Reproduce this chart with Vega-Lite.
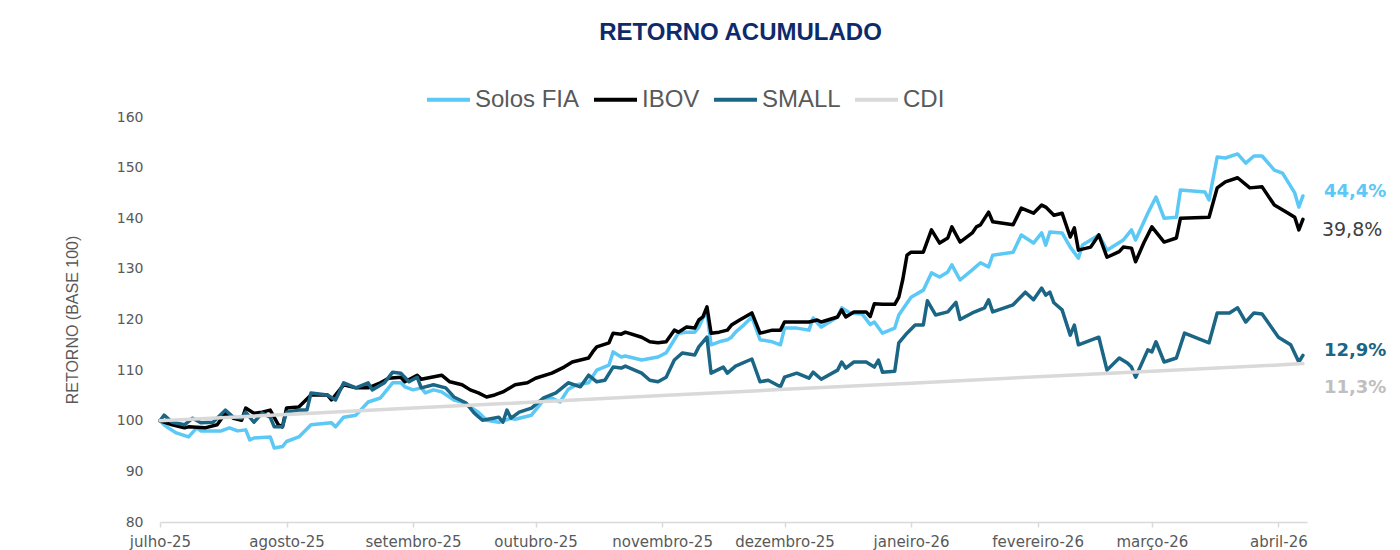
{
"$schema": "https://vega.github.io/schema/vega-lite/v6.json",
"width": 1147, "height": 405,
"autosize": {"type": "none"},
"padding": {"left": 160, "top": 117, "right": 93, "bottom": 28},
"background": "white",
"title": {"text": "RETORNO ACUMULADO", "anchor": "middle", "frame": "group", "font": "Liberation Sans", "fontSize": 24, "fontWeight": "bold", "color": "#0f2a6b", "offset": 31, "dx": 7},
"config": {"view": {"stroke": null}},
"datasets": {
"series": [
{"d":"2025-07-01","s":"Solos FIA","v":100},{"d":"2025-07-02","s":"Solos FIA","v":99.2},{"d":"2025-07-03","s":"Solos FIA","v":98.6},{"d":"2025-07-05","s":"Solos FIA","v":97.6},{"d":"2025-07-08","s":"Solos FIA","v":96.8},{"d":"2025-07-10","s":"Solos FIA","v":98.6},{"d":"2025-07-11","s":"Solos FIA","v":98.0},{"d":"2025-07-16","s":"Solos FIA","v":98.0},{"d":"2025-07-18","s":"Solos FIA","v":98.6},{"d":"2025-07-20","s":"Solos FIA","v":98.0},{"d":"2025-07-22","s":"Solos FIA","v":98.2},{"d":"2025-07-23","s":"Solos FIA","v":96.2},{"d":"2025-07-24","s":"Solos FIA","v":96.6},{"d":"2025-07-28","s":"Solos FIA","v":96.8},{"d":"2025-07-29","s":"Solos FIA","v":94.6},{"d":"2025-07-31","s":"Solos FIA","v":94.9},{"d":"2025-08-01","s":"Solos FIA","v":95.9},{"d":"2025-08-04","s":"Solos FIA","v":96.8},{"d":"2025-08-05","s":"Solos FIA","v":97.6},{"d":"2025-08-07","s":"Solos FIA","v":99.2},{"d":"2025-08-12","s":"Solos FIA","v":99.6},{"d":"2025-08-13","s":"Solos FIA","v":98.8},{"d":"2025-08-15","s":"Solos FIA","v":100.7},{"d":"2025-08-18","s":"Solos FIA","v":101.1},{"d":"2025-08-21","s":"Solos FIA","v":103.7},{"d":"2025-08-24","s":"Solos FIA","v":104.5},{"d":"2025-08-27","s":"Solos FIA","v":107.5},{"d":"2025-08-29","s":"Solos FIA","v":107.5},{"d":"2025-08-30","s":"Solos FIA","v":106.7},{"d":"2025-09-01","s":"Solos FIA","v":106.1},{"d":"2025-09-03","s":"Solos FIA","v":106.5},{"d":"2025-09-04","s":"Solos FIA","v":105.5},{"d":"2025-09-06","s":"Solos FIA","v":106.1},{"d":"2025-09-08","s":"Solos FIA","v":105.7},{"d":"2025-09-11","s":"Solos FIA","v":104.1},{"d":"2025-09-13","s":"Solos FIA","v":103.7},{"d":"2025-09-15","s":"Solos FIA","v":102.7},{"d":"2025-09-17","s":"Solos FIA","v":101.7},{"d":"2025-09-19","s":"Solos FIA","v":100.1},{"d":"2025-09-22","s":"Solos FIA","v":99.7},{"d":"2025-09-25","s":"Solos FIA","v":100.5},{"d":"2025-09-26","s":"Solos FIA","v":100.3},{"d":"2025-09-30","s":"Solos FIA","v":101.1},{"d":"2025-10-02","s":"Solos FIA","v":103.1},{"d":"2025-10-03","s":"Solos FIA","v":104.1},{"d":"2025-10-05","s":"Solos FIA","v":104.5},{"d":"2025-10-07","s":"Solos FIA","v":103.7},{"d":"2025-10-09","s":"Solos FIA","v":106.2},{"d":"2025-10-11","s":"Solos FIA","v":107.1},{"d":"2025-10-14","s":"Solos FIA","v":107.5},{"d":"2025-10-16","s":"Solos FIA","v":110.0},{"d":"2025-10-19","s":"Solos FIA","v":111.0},{"d":"2025-10-20","s":"Solos FIA","v":113.6},{"d":"2025-10-22","s":"Solos FIA","v":112.6},{"d":"2025-10-23","s":"Solos FIA","v":112.8},{"d":"2025-10-27","s":"Solos FIA","v":112.0},{"d":"2025-10-31","s":"Solos FIA","v":112.6},{"d":"2025-11-02","s":"Solos FIA","v":113.4},{"d":"2025-11-04","s":"Solos FIA","v":116.0},{"d":"2025-11-05","s":"Solos FIA","v":117.3},{"d":"2025-11-07","s":"Solos FIA","v":117.5},{"d":"2025-11-09","s":"Solos FIA","v":117.5},{"d":"2025-11-10","s":"Solos FIA","v":118.5},{"d":"2025-11-11","s":"Solos FIA","v":120.3},{"d":"2025-11-12","s":"Solos FIA","v":121.3},{"d":"2025-11-13","s":"Solos FIA","v":115.0},{"d":"2025-11-15","s":"Solos FIA","v":115.6},{"d":"2025-11-17","s":"Solos FIA","v":116.0},{"d":"2025-11-18","s":"Solos FIA","v":116.5},{"d":"2025-11-19","s":"Solos FIA","v":117.5},{"d":"2025-11-21","s":"Solos FIA","v":118.9},{"d":"2025-11-23","s":"Solos FIA","v":120.5},{"d":"2025-11-25","s":"Solos FIA","v":116.0},{"d":"2025-11-28","s":"Solos FIA","v":115.6},{"d":"2025-11-30","s":"Solos FIA","v":115.0},{"d":"2025-12-01","s":"Solos FIA","v":118.3},{"d":"2025-12-04","s":"Solos FIA","v":118.3},{"d":"2025-12-07","s":"Solos FIA","v":117.9},{"d":"2025-12-08","s":"Solos FIA","v":120.3},{"d":"2025-12-10","s":"Solos FIA","v":118.5},{"d":"2025-12-14","s":"Solos FIA","v":120.5},{"d":"2025-12-15","s":"Solos FIA","v":122.3},{"d":"2025-12-17","s":"Solos FIA","v":121.3},{"d":"2025-12-20","s":"Solos FIA","v":121.1},{"d":"2025-12-22","s":"Solos FIA","v":119.0},{"d":"2025-12-23","s":"Solos FIA","v":119.5},{"d":"2025-12-25","s":"Solos FIA","v":117.3},{"d":"2025-12-28","s":"Solos FIA","v":118.3},{"d":"2025-12-29","s":"Solos FIA","v":120.9},{"d":"2026-01-01","s":"Solos FIA","v":124.4},{"d":"2026-01-04","s":"Solos FIA","v":125.8},{"d":"2026-01-06","s":"Solos FIA","v":129.2},{"d":"2026-01-08","s":"Solos FIA","v":128.4},{"d":"2026-01-10","s":"Solos FIA","v":129.4},{"d":"2026-01-11","s":"Solos FIA","v":130.8},{"d":"2026-01-13","s":"Solos FIA","v":127.8},{"d":"2026-01-16","s":"Solos FIA","v":129.8},{"d":"2026-01-18","s":"Solos FIA","v":131.2},{"d":"2026-01-20","s":"Solos FIA","v":130.4},{"d":"2026-01-21","s":"Solos FIA","v":132.7},{"d":"2026-01-26","s":"Solos FIA","v":133.3},{"d":"2026-01-28","s":"Solos FIA","v":136.7},{"d":"2026-01-31","s":"Solos FIA","v":135.1},{"d":"2026-02-02","s":"Solos FIA","v":137.1},{"d":"2026-02-03","s":"Solos FIA","v":134.7},{"d":"2026-02-04","s":"Solos FIA","v":137.3},{"d":"2026-02-07","s":"Solos FIA","v":137.1},{"d":"2026-02-09","s":"Solos FIA","v":134.3},{"d":"2026-02-11","s":"Solos FIA","v":132.1},{"d":"2026-02-12","s":"Solos FIA","v":134.7},{"d":"2026-02-16","s":"Solos FIA","v":136.7},{"d":"2026-02-18","s":"Solos FIA","v":133.7},{"d":"2026-02-22","s":"Solos FIA","v":135.7},{"d":"2026-02-24","s":"Solos FIA","v":137.7},{"d":"2026-02-25","s":"Solos FIA","v":135.7},{"d":"2026-02-28","s":"Solos FIA","v":141.0},{"d":"2026-03-02","s":"Solos FIA","v":144.2},{"d":"2026-03-04","s":"Solos FIA","v":140.0},{"d":"2026-03-07","s":"Solos FIA","v":140.2},{"d":"2026-03-08","s":"Solos FIA","v":145.6},{"d":"2026-03-14","s":"Solos FIA","v":145.2},{"d":"2026-03-15","s":"Solos FIA","v":143.6},{"d":"2026-03-17","s":"Solos FIA","v":152.1},{"d":"2026-03-19","s":"Solos FIA","v":151.9},{"d":"2026-03-22","s":"Solos FIA","v":152.7},{"d":"2026-03-24","s":"Solos FIA","v":150.9},{"d":"2026-03-26","s":"Solos FIA","v":152.3},{"d":"2026-03-28","s":"Solos FIA","v":152.3},{"d":"2026-03-31","s":"Solos FIA","v":149.5},{"d":"2026-04-02","s":"Solos FIA","v":148.9},{"d":"2026-04-05","s":"Solos FIA","v":145.0},{"d":"2026-04-06","s":"Solos FIA","v":142.2},{"d":"2026-04-07","s":"Solos FIA","v":144.4},
{"d":"2025-07-01","s":"IBOV","v":100},{"d":"2025-07-04","s":"IBOV","v":99.2},{"d":"2025-07-07","s":"IBOV","v":98.6},{"d":"2025-07-08","s":"IBOV","v":98.8},{"d":"2025-07-12","s":"IBOV","v":98.6},{"d":"2025-07-15","s":"IBOV","v":99.2},{"d":"2025-07-17","s":"IBOV","v":101.5},{"d":"2025-07-19","s":"IBOV","v":100.5},{"d":"2025-07-21","s":"IBOV","v":100.1},{"d":"2025-07-22","s":"IBOV","v":102.5},{"d":"2025-07-24","s":"IBOV","v":101.5},{"d":"2025-07-26","s":"IBOV","v":101.7},{"d":"2025-07-28","s":"IBOV","v":102.1},{"d":"2025-07-30","s":"IBOV","v":99.2},{"d":"2025-07-31","s":"IBOV","v":98.8},{"d":"2025-08-01","s":"IBOV","v":102.5},{"d":"2025-08-04","s":"IBOV","v":102.7},{"d":"2025-08-07","s":"IBOV","v":105.1},{"d":"2025-08-11","s":"IBOV","v":105.1},{"d":"2025-08-12","s":"IBOV","v":104.1},{"d":"2025-08-15","s":"IBOV","v":107.1},{"d":"2025-08-18","s":"IBOV","v":106.5},{"d":"2025-08-21","s":"IBOV","v":106.5},{"d":"2025-08-24","s":"IBOV","v":107.5},{"d":"2025-08-26","s":"IBOV","v":108.4},{"d":"2025-08-29","s":"IBOV","v":108.6},{"d":"2025-08-30","s":"IBOV","v":107.7},{"d":"2025-09-02","s":"IBOV","v":109.0},{"d":"2025-09-03","s":"IBOV","v":108.2},{"d":"2025-09-08","s":"IBOV","v":109.0},{"d":"2025-09-10","s":"IBOV","v":107.7},{"d":"2025-09-13","s":"IBOV","v":107.1},{"d":"2025-09-15","s":"IBOV","v":106.1},{"d":"2025-09-17","s":"IBOV","v":105.5},{"d":"2025-09-19","s":"IBOV","v":104.7},{"d":"2025-09-21","s":"IBOV","v":105.1},{"d":"2025-09-23","s":"IBOV","v":105.7},{"d":"2025-09-26","s":"IBOV","v":107.1},{"d":"2025-09-29","s":"IBOV","v":107.5},{"d":"2025-10-01","s":"IBOV","v":108.4},{"d":"2025-10-05","s":"IBOV","v":109.4},{"d":"2025-10-08","s":"IBOV","v":110.6},{"d":"2025-10-10","s":"IBOV","v":111.6},{"d":"2025-10-14","s":"IBOV","v":112.4},{"d":"2025-10-15","s":"IBOV","v":113.6},{"d":"2025-10-16","s":"IBOV","v":114.6},{"d":"2025-10-19","s":"IBOV","v":115.4},{"d":"2025-10-20","s":"IBOV","v":117.3},{"d":"2025-10-22","s":"IBOV","v":117.1},{"d":"2025-10-23","s":"IBOV","v":117.5},{"d":"2025-10-27","s":"IBOV","v":116.5},{"d":"2025-10-29","s":"IBOV","v":115.6},{"d":"2025-10-31","s":"IBOV","v":115.4},{"d":"2025-11-02","s":"IBOV","v":115.6},{"d":"2025-11-04","s":"IBOV","v":117.9},{"d":"2025-11-05","s":"IBOV","v":117.5},{"d":"2025-11-07","s":"IBOV","v":118.5},{"d":"2025-11-09","s":"IBOV","v":118.3},{"d":"2025-11-10","s":"IBOV","v":119.9},{"d":"2025-11-11","s":"IBOV","v":120.5},{"d":"2025-11-12","s":"IBOV","v":122.5},{"d":"2025-11-13","s":"IBOV","v":117.3},{"d":"2025-11-15","s":"IBOV","v":117.5},{"d":"2025-11-17","s":"IBOV","v":117.9},{"d":"2025-11-18","s":"IBOV","v":118.9},{"d":"2025-11-20","s":"IBOV","v":119.9},{"d":"2025-11-23","s":"IBOV","v":121.3},{"d":"2025-11-25","s":"IBOV","v":117.3},{"d":"2025-11-28","s":"IBOV","v":117.9},{"d":"2025-11-30","s":"IBOV","v":117.9},{"d":"2025-12-01","s":"IBOV","v":119.5},{"d":"2025-12-04","s":"IBOV","v":119.5},{"d":"2025-12-07","s":"IBOV","v":119.5},{"d":"2025-12-09","s":"IBOV","v":119.9},{"d":"2025-12-10","s":"IBOV","v":119.5},{"d":"2025-12-14","s":"IBOV","v":120.5},{"d":"2025-12-15","s":"IBOV","v":121.9},{"d":"2025-12-16","s":"IBOV","v":120.5},{"d":"2025-12-18","s":"IBOV","v":121.5},{"d":"2025-12-21","s":"IBOV","v":121.5},{"d":"2025-12-22","s":"IBOV","v":120.6},{"d":"2025-12-23","s":"IBOV","v":123.1},{"d":"2025-12-25","s":"IBOV","v":123.0},{"d":"2025-12-28","s":"IBOV","v":123.0},{"d":"2025-12-29","s":"IBOV","v":124.4},{"d":"2025-12-30","s":"IBOV","v":128.0},{"d":"2025-12-31","s":"IBOV","v":132.7},{"d":"2026-01-01","s":"IBOV","v":133.3},{"d":"2026-01-04","s":"IBOV","v":133.3},{"d":"2026-01-06","s":"IBOV","v":137.7},{"d":"2026-01-08","s":"IBOV","v":135.1},{"d":"2026-01-10","s":"IBOV","v":136.1},{"d":"2026-01-11","s":"IBOV","v":138.3},{"d":"2026-01-13","s":"IBOV","v":135.3},{"d":"2026-01-16","s":"IBOV","v":137.1},{"d":"2026-01-17","s":"IBOV","v":138.3},{"d":"2026-01-18","s":"IBOV","v":138.7},{"d":"2026-01-20","s":"IBOV","v":141.2},{"d":"2026-01-21","s":"IBOV","v":139.3},{"d":"2026-01-26","s":"IBOV","v":138.7},{"d":"2026-01-28","s":"IBOV","v":142.0},{"d":"2026-01-31","s":"IBOV","v":141.0},{"d":"2026-02-02","s":"IBOV","v":142.6},{"d":"2026-02-03","s":"IBOV","v":142.2},{"d":"2026-02-05","s":"IBOV","v":140.6},{"d":"2026-02-07","s":"IBOV","v":141.0},{"d":"2026-02-09","s":"IBOV","v":136.3},{"d":"2026-02-10","s":"IBOV","v":138.1},{"d":"2026-02-11","s":"IBOV","v":133.7},{"d":"2026-02-14","s":"IBOV","v":134.3},{"d":"2026-02-16","s":"IBOV","v":136.7},{"d":"2026-02-18","s":"IBOV","v":132.3},{"d":"2026-02-21","s":"IBOV","v":133.4},{"d":"2026-02-22","s":"IBOV","v":134.3},{"d":"2026-02-24","s":"IBOV","v":134.1},{"d":"2026-02-25","s":"IBOV","v":131.4},{"d":"2026-02-27","s":"IBOV","v":135.1},{"d":"2026-03-01","s":"IBOV","v":138.3},{"d":"2026-03-04","s":"IBOV","v":135.3},{"d":"2026-03-07","s":"IBOV","v":136.1},{"d":"2026-03-08","s":"IBOV","v":140.0},{"d":"2026-03-15","s":"IBOV","v":140.2},{"d":"2026-03-17","s":"IBOV","v":146.0},{"d":"2026-03-19","s":"IBOV","v":147.2},{"d":"2026-03-22","s":"IBOV","v":148.0},{"d":"2026-03-25","s":"IBOV","v":146.0},{"d":"2026-03-28","s":"IBOV","v":146.2},{"d":"2026-03-31","s":"IBOV","v":142.6},{"d":"2026-04-03","s":"IBOV","v":141.2},{"d":"2026-04-05","s":"IBOV","v":140.2},{"d":"2026-04-06","s":"IBOV","v":137.7},{"d":"2026-04-07","s":"IBOV","v":139.8},
{"d":"2025-07-01","s":"SMALL","v":100},{"d":"2025-07-02","s":"SMALL","v":101.1},{"d":"2025-07-04","s":"SMALL","v":99.7},{"d":"2025-07-07","s":"SMALL","v":99.2},{"d":"2025-07-09","s":"SMALL","v":100.5},{"d":"2025-07-11","s":"SMALL","v":99.6},{"d":"2025-07-14","s":"SMALL","v":99.7},{"d":"2025-07-17","s":"SMALL","v":102.1},{"d":"2025-07-19","s":"SMALL","v":100.7},{"d":"2025-07-21","s":"SMALL","v":100.5},{"d":"2025-07-22","s":"SMALL","v":101.7},{"d":"2025-07-24","s":"SMALL","v":99.7},{"d":"2025-07-26","s":"SMALL","v":101.5},{"d":"2025-07-28","s":"SMALL","v":100.7},{"d":"2025-07-29","s":"SMALL","v":98.8},{"d":"2025-07-31","s":"SMALL","v":98.8},{"d":"2025-08-01","s":"SMALL","v":101.7},{"d":"2025-08-04","s":"SMALL","v":102.1},{"d":"2025-08-06","s":"SMALL","v":102.1},{"d":"2025-08-07","s":"SMALL","v":105.5},{"d":"2025-08-11","s":"SMALL","v":105.1},{"d":"2025-08-13","s":"SMALL","v":104.1},{"d":"2025-08-15","s":"SMALL","v":107.5},{"d":"2025-08-18","s":"SMALL","v":106.5},{"d":"2025-08-21","s":"SMALL","v":107.5},{"d":"2025-08-22","s":"SMALL","v":106.1},{"d":"2025-08-25","s":"SMALL","v":107.5},{"d":"2025-08-27","s":"SMALL","v":109.6},{"d":"2025-08-29","s":"SMALL","v":109.4},{"d":"2025-08-31","s":"SMALL","v":107.7},{"d":"2025-09-02","s":"SMALL","v":108.6},{"d":"2025-09-03","s":"SMALL","v":106.5},{"d":"2025-09-06","s":"SMALL","v":107.1},{"d":"2025-09-09","s":"SMALL","v":106.5},{"d":"2025-09-11","s":"SMALL","v":104.7},{"d":"2025-09-14","s":"SMALL","v":103.5},{"d":"2025-09-16","s":"SMALL","v":101.5},{"d":"2025-09-18","s":"SMALL","v":100.1},{"d":"2025-09-22","s":"SMALL","v":100.7},{"d":"2025-09-23","s":"SMALL","v":99.7},{"d":"2025-09-24","s":"SMALL","v":102.1},{"d":"2025-09-25","s":"SMALL","v":100.5},{"d":"2025-09-27","s":"SMALL","v":101.7},{"d":"2025-09-30","s":"SMALL","v":102.5},{"d":"2025-10-03","s":"SMALL","v":104.5},{"d":"2025-10-06","s":"SMALL","v":105.5},{"d":"2025-10-09","s":"SMALL","v":107.5},{"d":"2025-10-12","s":"SMALL","v":106.7},{"d":"2025-10-14","s":"SMALL","v":109.0},{"d":"2025-10-16","s":"SMALL","v":107.7},{"d":"2025-10-18","s":"SMALL","v":108.0},{"d":"2025-10-20","s":"SMALL","v":110.6},{"d":"2025-10-22","s":"SMALL","v":110.4},{"d":"2025-10-23","s":"SMALL","v":110.8},{"d":"2025-10-27","s":"SMALL","v":109.4},{"d":"2025-10-29","s":"SMALL","v":108.0},{"d":"2025-10-31","s":"SMALL","v":107.7},{"d":"2025-11-02","s":"SMALL","v":108.6},{"d":"2025-11-04","s":"SMALL","v":112.0},{"d":"2025-11-06","s":"SMALL","v":113.4},{"d":"2025-11-09","s":"SMALL","v":113.0},{"d":"2025-11-10","s":"SMALL","v":114.6},{"d":"2025-11-12","s":"SMALL","v":116.5},{"d":"2025-11-13","s":"SMALL","v":109.4},{"d":"2025-11-16","s":"SMALL","v":110.6},{"d":"2025-11-17","s":"SMALL","v":109.4},{"d":"2025-11-19","s":"SMALL","v":110.8},{"d":"2025-11-23","s":"SMALL","v":112.2},{"d":"2025-11-25","s":"SMALL","v":107.7},{"d":"2025-11-27","s":"SMALL","v":108.0},{"d":"2025-11-30","s":"SMALL","v":106.7},{"d":"2025-12-01","s":"SMALL","v":108.6},{"d":"2025-12-04","s":"SMALL","v":109.4},{"d":"2025-12-07","s":"SMALL","v":108.4},{"d":"2025-12-08","s":"SMALL","v":109.6},{"d":"2025-12-10","s":"SMALL","v":108.2},{"d":"2025-12-14","s":"SMALL","v":110.0},{"d":"2025-12-15","s":"SMALL","v":111.6},{"d":"2025-12-16","s":"SMALL","v":110.4},{"d":"2025-12-18","s":"SMALL","v":111.6},{"d":"2025-12-21","s":"SMALL","v":111.6},{"d":"2025-12-23","s":"SMALL","v":110.6},{"d":"2025-12-24","s":"SMALL","v":112.0},{"d":"2025-12-25","s":"SMALL","v":109.6},{"d":"2025-12-28","s":"SMALL","v":109.8},{"d":"2025-12-29","s":"SMALL","v":115.4},{"d":"2025-12-31","s":"SMALL","v":117.3},{"d":"2026-01-02","s":"SMALL","v":118.9},{"d":"2026-01-04","s":"SMALL","v":118.9},{"d":"2026-01-05","s":"SMALL","v":123.7},{"d":"2026-01-07","s":"SMALL","v":120.9},{"d":"2026-01-10","s":"SMALL","v":121.5},{"d":"2026-01-12","s":"SMALL","v":123.4},{"d":"2026-01-13","s":"SMALL","v":120.0},{"d":"2026-01-16","s":"SMALL","v":121.3},{"d":"2026-01-19","s":"SMALL","v":122.3},{"d":"2026-01-20","s":"SMALL","v":123.9},{"d":"2026-01-21","s":"SMALL","v":121.5},{"d":"2026-01-26","s":"SMALL","v":122.9},{"d":"2026-01-29","s":"SMALL","v":125.4},{"d":"2026-01-31","s":"SMALL","v":123.9},{"d":"2026-02-02","s":"SMALL","v":126.2},{"d":"2026-02-03","s":"SMALL","v":124.8},{"d":"2026-02-04","s":"SMALL","v":125.4},{"d":"2026-02-05","s":"SMALL","v":123.3},{"d":"2026-02-07","s":"SMALL","v":121.9},{"d":"2026-02-09","s":"SMALL","v":116.9},{"d":"2026-02-10","s":"SMALL","v":118.9},{"d":"2026-02-11","s":"SMALL","v":115.0},{"d":"2026-02-16","s":"SMALL","v":116.5},{"d":"2026-02-18","s":"SMALL","v":110.0},{"d":"2026-02-21","s":"SMALL","v":112.4},{"d":"2026-02-23","s":"SMALL","v":111.4},{"d":"2026-02-24","s":"SMALL","v":110.6},{"d":"2026-02-25","s":"SMALL","v":108.6},{"d":"2026-02-28","s":"SMALL","v":114.0},{"d":"2026-03-01","s":"SMALL","v":113.6},{"d":"2026-03-02","s":"SMALL","v":115.6},{"d":"2026-03-04","s":"SMALL","v":111.6},{"d":"2026-03-07","s":"SMALL","v":112.4},{"d":"2026-03-09","s":"SMALL","v":117.3},{"d":"2026-03-15","s":"SMALL","v":115.4},{"d":"2026-03-17","s":"SMALL","v":121.3},{"d":"2026-03-20","s":"SMALL","v":121.3},{"d":"2026-03-22","s":"SMALL","v":122.3},{"d":"2026-03-24","s":"SMALL","v":119.5},{"d":"2026-03-26","s":"SMALL","v":121.3},{"d":"2026-03-28","s":"SMALL","v":121.1},{"d":"2026-04-01","s":"SMALL","v":116.5},{"d":"2026-04-04","s":"SMALL","v":115.0},{"d":"2026-04-06","s":"SMALL","v":111.6},{"d":"2026-04-07","s":"SMALL","v":112.9},
{"d":"2025-07-01","s":"CDI","v":100},{"d":"2025-08-01","s":"CDI","v":101.25},{"d":"2025-09-01","s":"CDI","v":102.5},{"d":"2025-10-01","s":"CDI","v":103.7},{"d":"2025-11-01","s":"CDI","v":105.0},{"d":"2025-12-01","s":"CDI","v":106.2},{"d":"2026-01-01","s":"CDI","v":107.4},{"d":"2026-02-01","s":"CDI","v":108.7},{"d":"2026-03-01","s":"CDI","v":109.8},{"d":"2026-04-01","s":"CDI","v":111.0},{"d":"2026-04-07","s":"CDI","v":111.3}
],
"labels": [
{"s":"Solos FIA","d":"2026-04-07","p":145.1,"t":"44,4%"},
{"s":"IBOV","d":"2026-04-07","p":137.7,"t":"39,8%"},
{"s":"SMALL","d":"2026-04-07","p":113.8,"t":"12,9%"},
{"s":"CDI","d":"2026-04-07","p":106.5,"t":"11,3%"}
]
},
"layer": [
{
"data": {"name": "series"},
"mark": {"type": "line", "strokeWidth": 3.5, "strokeJoin": "round", "strokeCap": "round"},
"encoding": {
"x": {"field": "d", "type": "temporal",
 "scale": {"type": "utc", "domain": [{"year": 2025, "month": 7, "date": 1, "utc": true}, {"year": 2026, "month": 4, "date": 8, "utc": true}]},
 "axis": {"title": null, "grid": false,
  "values": [{"year":2025,"month":7,"date":1,"utc":true},{"year":2025,"month":8,"date":1,"utc":true},{"year":2025,"month":9,"date":1,"utc":true},{"year":2025,"month":10,"date":1,"utc":true},{"year":2025,"month":11,"date":1,"utc":true},{"year":2025,"month":12,"date":1,"utc":true},{"year":2026,"month":1,"date":1,"utc":true},{"year":2026,"month":2,"date":1,"utc":true},{"year":2026,"month":3,"date":1,"utc":true},{"year":2026,"month":4,"date":1,"utc":true}],
  "labelExpr": "['janeiro','fevereiro','março','abril','maio','junho','julho','agosto','setembro','outubro','novembro','dezembro'][utcmonth(datum.value)] + '-' + utcFormat(datum.value, '%y')",
  "domainColor": "#d9d9d9", "domainWidth": 1.5, "tickColor": "#d9d9d9", "tickSize": 5, "tickWidth": 1.5,
  "labelFont": "DejaVu Sans", "labelFontSize": 15, "labelColor": "#595959", "labelPadding": 7,
  "labelFlush": false, "labelOverlap": false}},
"y": {"field": "v", "type": "quantitative",
 "scale": {"domain": [80, 160], "nice": false, "zero": false},
 "axis": {"title": "RETORNO (BASE 100)", "values": [80, 90, 100, 110, 120, 130, 140, 150, 160], "grid": false, "domain": false, "ticks": false,
  "labelFont": "DejaVu Sans", "labelFontSize": 14, "labelColor": "#595959", "labelPadding": 17,
  "titleFont": "Liberation Sans", "titleFontSize": 16, "titleFontWeight": "normal", "titleColor": "#595959", "titlePadding": 36}},
"color": {"field": "s", "type": "nominal",
 "scale": {"domain": ["Solos FIA", "IBOV", "SMALL", "CDI"], "range": ["#5bc8f5", "#000000", "#1b6585", "#d9d9d9"]},
 "legend": {"orient": "none", "legendX": 265, "legendY": -41, "direction": "horizontal", "title": null,
  "symbolType": "stroke", "symbolStrokeWidth": 4, "symbolSize": 1849, "labelFont": "Liberation Sans", "labelFontSize": 24,
  "labelColor": "#595959", "labelOffset": 3, "columnPadding": 6, "padding": 0}}
}
},
{
"data": {"name": "labels"},
"transform": [{"filter": "datum.s !== 'IBOV'"}],
"mark": {"type": "text", "align": "left", "baseline": "middle", "dx": 21, "font": "DejaVu Sans", "fontSize": 18, "fontWeight": "bold"},
"encoding": {
"x": {"field": "d", "type": "temporal"},
"y": {"field": "p", "type": "quantitative"},
"text": {"field": "t"},
"color": {"field": "s", "type": "nominal", "scale": {"domain": ["Solos FIA", "IBOV", "SMALL", "CDI"], "range": ["#5bc8f5", "#404040", "#1b6585", "#bfbfbf"]}, "legend": null}
}
},
{
"data": {"name": "labels"},
"transform": [{"filter": "datum.s === 'IBOV'"}],
"mark": {"type": "text", "align": "left", "baseline": "middle", "dx": 19, "font": "DejaVu Sans", "fontSize": 19, "fontWeight": "normal", "color": "#404040"},
"encoding": {
"x": {"field": "d", "type": "temporal"},
"y": {"field": "p", "type": "quantitative"},
"text": {"field": "t"}
}
}
],
"resolve": {"scale": {"color": "independent"}}
}
